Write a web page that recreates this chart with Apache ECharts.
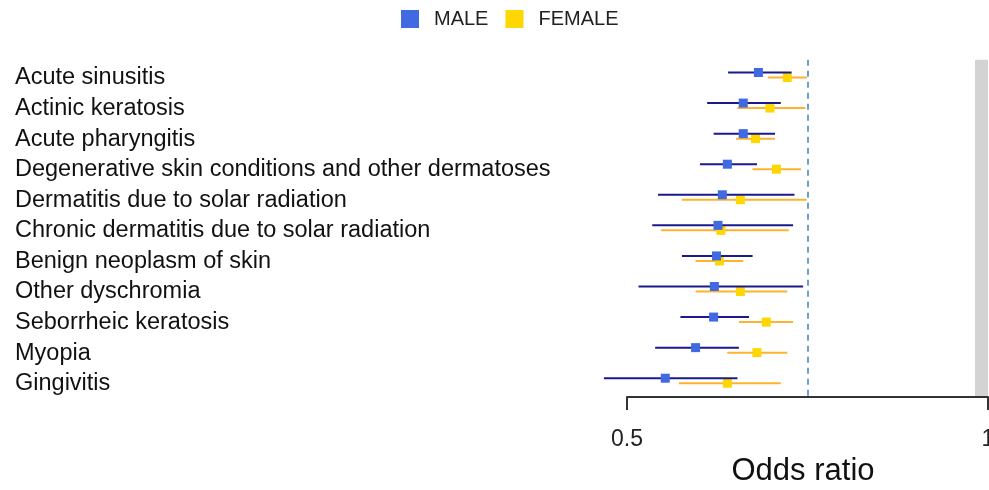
<!DOCTYPE html>
<html>
<head>
<meta charset="utf-8">
<script src="https://cdn.jsdelivr.net/npm/echarts@6/dist/echarts.min.js"></script>
<style>
  html, body { margin: 0; padding: 0; background: #fff; }
  #chart-container { width: 989px; height: 490px; }
</style>
</head>
<body>
<div id="chart-container"></div>
<script>
// Enfermedades (de arriba a abajo)
const categories = [
    'Acute sinusitis',
    'Actinic keratosis',
    'Acute pharyngitis',
    'Degenerative skin conditions and other dermatoses',
    'Dermatitis due to solar radiation',
    'Chronic dermatitis due to solar radiation',
    'Benign neoplasm of skin',
    'Other dyschromia',
    'Seborrheic keratosis',
    'Myopia',
    'Gingivitis'
];

// Odds ratio e intervalos, hombres
const maleEst = [0.682, 0.661, 0.661, 0.639, 0.632, 0.626, 0.624, 0.621, 0.620, 0.595, 0.553];
const maleLo  = [0.640, 0.611, 0.620, 0.601, 0.543, 0.535, 0.576, 0.516, 0.574, 0.539, 0.468];
const maleHi  = [0.728, 0.713, 0.705, 0.680, 0.732, 0.730, 0.674, 0.744, 0.669, 0.655, 0.653];

// Odds ratio e intervalos, mujeres
const femaleEst = [0.722, 0.698, 0.678, 0.707, 0.657, 0.630, 0.628, 0.657, 0.693, 0.680, 0.639];
const femaleLo  = [0.695, 0.653, 0.651, 0.674, 0.576, 0.547, 0.595, 0.595, 0.655, 0.639, 0.572];
const femaleHi  = [0.749, 0.747, 0.705, 0.741, 0.749, 0.724, 0.661, 0.722, 0.730, 0.722, 0.713];

const xTicks = [0.5, 1];
const refLine = 0.75;
const shadeBand = [0.982, 1];

const font = "'Liberation Sans', Arial, sans-serif";

// Dibuja intervalo + punto, desplazado un poco en vertical
function makeRender(offset, lineColor, pointColor) {
    return function (params, api) {
        const cat = api.value(0);
        const pLo = api.coord([api.value(1), cat]);
        const pEst = api.coord([api.value(2), cat]);
        const pHi = api.coord([api.value(3), cat]);
        const y = pLo[1] + offset;
        return {
            type: 'group',
            children: [
                { type: 'line', shape: { x1: pLo[0], y1: y, x2: pHi[0], y2: y },
                  style: { stroke: lineColor, lineWidth: 2 } },
                { type: 'rect', shape: { x: pEst[0] - 4.5, y: y - 4.5, width: 9, height: 9 },
                  style: { fill: pointColor } }
            ]
        };
    };
}

function initChart() {
    const chartDom = document.getElementById('chart-container');
    const myChart = echarts.init(chartDom);

    const option = {
        animation: false,
        textStyle: { fontFamily: font },
        legend: {
            top: 4,
            left: 396,
            itemWidth: 18,
            itemHeight: 18,
            itemGap: 17,
            textStyle: { fontSize: 20, color: '#222', padding: [0, 0, 0, 10] },
            data: [
                { name: 'MALE', icon: 'rect', itemStyle: { color: '#4169E1' } },
                { name: 'FEMALE', icon: 'rect', itemStyle: { color: '#FFD700' } }
            ]
        },
        grid: [
            { left: 554.8, right: 1, top: 59.7, bottom: 94, outerBoundsMode: 'none' },
            { left: 627, right: 1, top: 59.7, bottom: 93, outerBoundsMode: 'none' },
            // solo para las etiquetas de enfermedades
            { left: 554.8, right: 1, top: 62.7, bottom: 91, outerBoundsMode: 'none' }
        ],
        xAxis: [
            { gridIndex: 0, type: 'value', min: 0.4, max: 1, show: false },
            {
                gridIndex: 1, type: 'value', min: xTicks[0], max: xTicks[1], interval: 0.5,
                position: 'bottom',
                axisLine: { show: true, lineStyle: { color: '#333', width: 2 } },
                axisTick: { show: true, length: 13, lineStyle: { color: '#333', width: 2 } },
                splitLine: { show: false },
                axisLabel: {
                    fontSize: 23, color: '#222', margin: 31,
                    formatter: v => (xTicks.includes(v) ? String(v) : '')
                },
                name: 'Odds ratio',
                nameLocation: 'middle',
                nameGap: 51,
                nameTextStyle: { fontSize: 31, color: '#111', padding: [0, 9, 0, 0] }
            },
            { gridIndex: 2, type: 'value', min: 0.4, max: 1, show: false }
        ],
        yAxis: [
            { gridIndex: 0, type: 'category', data: categories, inverse: true, show: false },
            { gridIndex: 1, type: 'value', show: false },
            {
                gridIndex: 2, type: 'category', data: categories, inverse: true,
                axisLine: { show: false }, axisTick: { show: false },
                splitLine: { show: false },
                axisLabel: {
                    interval: 0, align: 'left', margin: 539.8, fontSize: 23.5, color: '#111'
                }
            }
        ],
        series: [
            {
                name: 'MALE',
                type: 'custom',
                xAxisIndex: 0, yAxisIndex: 0,
                itemStyle: { color: '#4169E1' },
                renderItem: makeRender(-2.5, '#1A1A8C', '#4169E1'),
                encode: { x: [1, 2, 3], y: 0 },
                data: categories.map((c, i) => [i, maleLo[i], maleEst[i], maleHi[i]]),
                markArea: {
                    silent: true,
                    itemStyle: { color: '#D3D3D3' },
                    data: [[{ xAxis: shadeBand[0] }, { xAxis: shadeBand[1] }]]
                },
                markLine: {
                    silent: true,
                    symbol: 'none',
                    label: { show: false },
                    lineStyle: { type: [6, 5], color: '#6C9FCC', width: 2 },
                    data: [{ xAxis: refLine }]
                },
                z: 3
            },
            {
                name: 'FEMALE',
                type: 'custom',
                xAxisIndex: 0, yAxisIndex: 0,
                itemStyle: { color: '#FFD700' },
                renderItem: makeRender(2.5, '#FFB22E', '#FFD700'),
                encode: { x: [1, 2, 3], y: 0 },
                data: categories.map((c, i) => [i, femaleLo[i], femaleEst[i], femaleHi[i]]),
                z: 2
            }
        ]
    };

    myChart.setOption(option);
}

initChart();
</script>
</body>
</html>
